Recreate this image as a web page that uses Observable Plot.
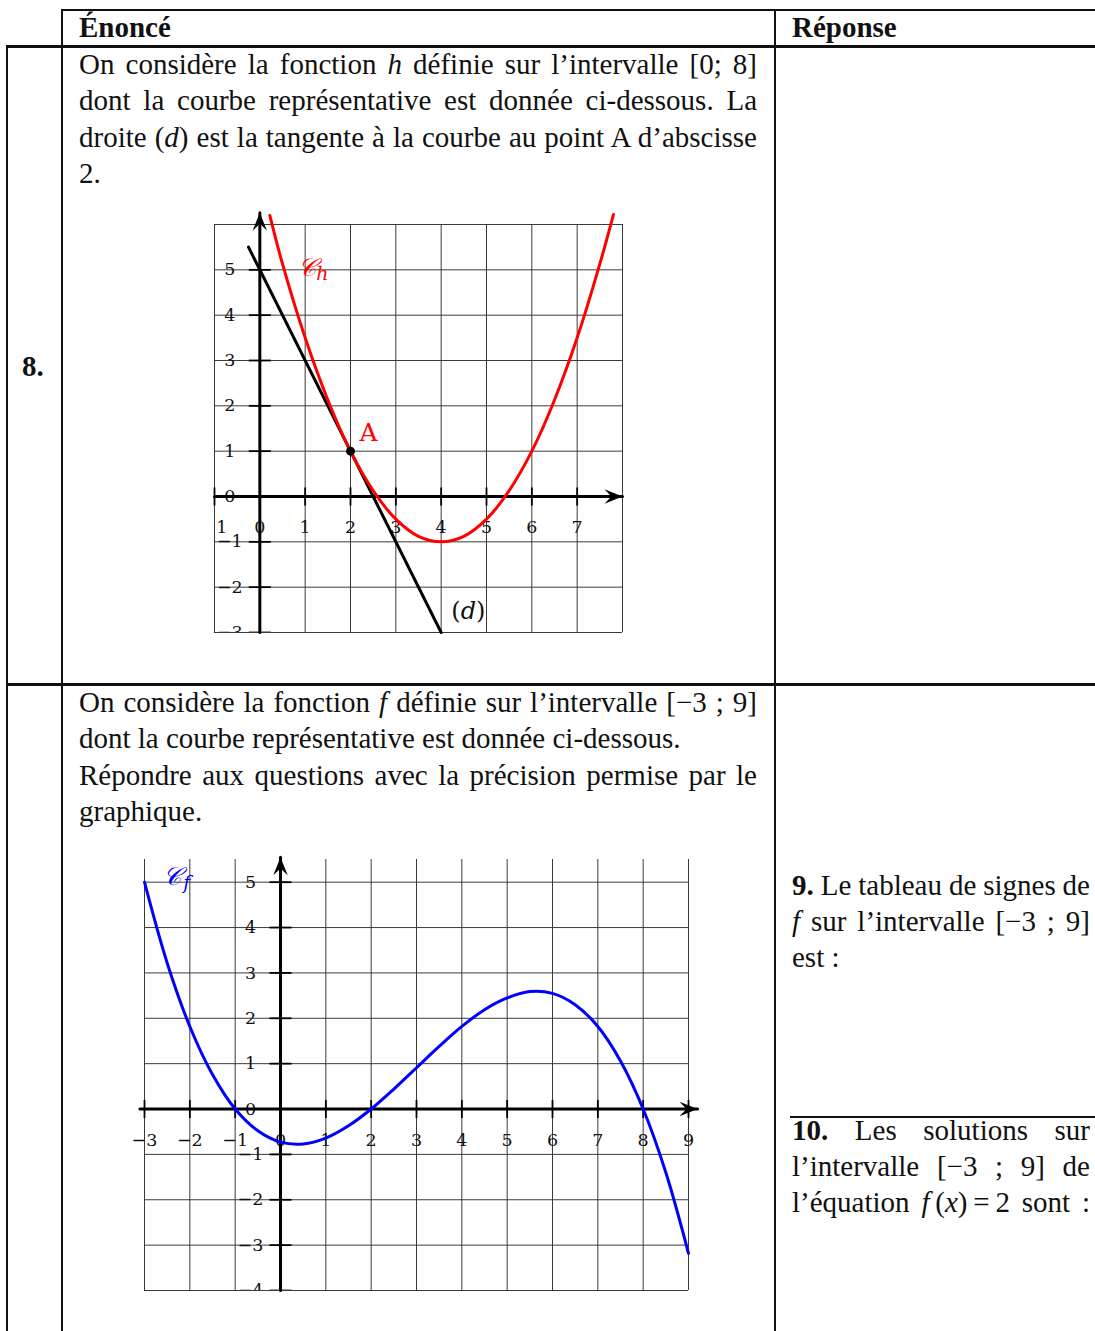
<!DOCTYPE html>
<html>
<head>
<meta charset="utf-8">
<script src="https://cdn.jsdelivr.net/npm/d3@7"></script>
<script src="https://cdn.jsdelivr.net/npm/@observablehq/plot@0.6"></script>
<style>
  html, body { margin: 0; padding: 0; background: #fff; }
  #page { position: relative; width: 1095px; height: 1331px; overflow: hidden; font-family: "Liberation Serif", serif; color: #111; }
  .hl { position: absolute; background: #111; }
  .ln { position: absolute; white-space: nowrap; }
  .b { font-weight: bold; }
  i { font-style: italic; }
  .chart { position: absolute; }
</style>
</head>
<body>
<div id="page"></div>
<script>
// ---------------- data ----------------
const headers = ["Énoncé", "Réponse"];
const rowLabels = ["8."];
const q8Lines = [
  "On considère la fonction <i>h</i> définie sur l’intervalle [0; 8]",
  "dont la courbe représentative est donnée ci-dessous. La",
  "droite (<i>d</i>) est la tangente à la courbe au point A d’abscisse",
  "2."
];
const q9Lines = [
  "On considère la fonction <i>f</i> définie sur l’intervalle [−3 ; 9]",
  "dont la courbe représentative est donnée ci-dessous.",
  "Répondre aux questions avec la précision permise par le",
  "graphique."
];
const ans9Lines = ["<b>9.</b> Le tableau de signes de", "<i>f</i> sur l’intervalle [−3 ; 9]", "est :"];
const ans10Lines = ["<b>10.</b> Les solutions sur", "l’intervalle [−3 ; 9] de", "l’équation <i>f</i>&#8201;(<i>x</i>)&#8201;=&#8201;2 sont :"];

// chart 1 : function h and tangent (d)
const h_x = [0.22, 0.5, 1, 1.5, 2, 2.5, 3, 3.5, 4, 4.5, 5, 5.5, 6, 6.5, 7, 7.5, 7.8];
const h_y = [6.2, 5.13, 3.5, 2.13, 1, 0.13, -0.5, -0.88, -1, -0.88, -0.5, 0.13, 1, 2.13, 3.5, 5.13, 6.22];
const d_x = [-0.25, 4];
const d_y = [5.5, -3];
const pointA = [2, 1];
const grid1X = [-1, 0, 1, 2, 3, 4, 5, 6, 7, 8];
const grid1Y = [-3, -2, -1, 0, 1, 2, 3, 4, 5, 6];
const xLabels1 = [-1, 0, 1, 2, 3, 4, 5, 6, 7];
const yLabels1 = [-3, -2, -1, 0, 1, 2, 3, 4, 5];
const xAxis1 = [-1, 8];
const yAxis1 = [-3, 6.26];
const labels1 = [
  {x: 2, y: 1, text: "A"},
  {x: 4.6, y: -2.53, text: "(𝑑)"},
  {x: 1.05, y: 5.05, text: "𝒞", sub: "ℎ"}
];

// chart 2 : function f
const f_x = [-3, -2.5, -2, -1.5, -1, -0.5, 0, 0.5, 1, 1.5, 2, 2.5, 3, 3.5, 4, 4.5, 5, 5.5, 6, 6.5, 7, 7.5, 8, 8.5, 9];
const f_y = [5, 3.22, 1.82, 0.76, 0, -0.48, -0.73, -0.77, -0.64, -0.37, 0, 0.44, 0.91, 1.38, 1.82, 2.19, 2.45, 2.59, 2.55, 2.3, 1.82, 1.06, 0, -1.4, -3.18];
const grid2X = [-3, -2, -1, 0, 1, 2, 3, 4, 5, 6, 7, 8, 9];
const grid2Y = [-4, -3, -2, -1, 0, 1, 2, 3, 4, 5];
const xLabels2 = [-3, -2, -1, 0, 1, 2, 3, 4, 5, 6, 7, 8, 9];
const yLabels2 = [-4, -3, -2, -1, 0, 1, 2, 3, 4, 5];
const xAxis2 = [-3.1, 9.2];
const yAxis2 = [-4, 5.55];
const labels2 = [{x: -2.4, y: 5.12, text: "𝒞", sub: "𝑓"}];

// ---------------- layout ----------------
const page = document.getElementById("page");
// calibrate font size so the natural width of a reference line matches (≈630px)
const cv = document.createElement("canvas").getContext("2d");
cv.font = '26px "Liberation Serif"';
const natural = cv.measureText("dont la courbe représentative est donnée ci-dessous.").width;
const FS = Math.min(29, Math.max(24, 26 * 628 / natural));

function box(cls, l, t, w, h) {
  const d = document.createElement("div");
  d.className = cls;
  Object.assign(d.style, {left: l + "px", top: t + "px", width: w + "px", height: h + "px"});
  page.appendChild(d);
  return d;
}
function line(html, l, centerY, w, justify, extra) {
  const d = document.createElement("div");
  d.className = "ln" + (extra ? " " + extra : "");
  Object.assign(d.style, {left: l + "px", top: (centerY - 19) + "px",
    fontSize: FS + "px", lineHeight: "38px"});
  d.innerHTML = html;
  page.appendChild(d);
  const nat = d.getBoundingClientRect().width;
  const gaps = (d.textContent.match(/[ \u00a0]/g) || []).length;
  if (justify && gaps > 0) {
    d.style.wordSpacing = ((w - nat) / gaps) + "px";
  } else if (nat > w) {
    d.style.letterSpacing = ((w - nat) / d.textContent.length) + "px";
  }
}
// table rules
box("hl", 62, 9, 1033, 2);
box("hl", 6, 45, 1089, 3);
box("hl", 6, 683, 1089, 3);
box("hl", 61, 9, 2, 1322);
box("hl", 774, 9, 2, 1322);
box("hl", 6, 45, 2, 1286);
box("hl", 790, 1116, 305, 2);

line(headers[0], 79, 27, 300, false, "b");
line(headers[1], 792, 27, 300, false, "b");
line(rowLabels[0], 22, 366, 40, false, "b");

q8Lines.forEach((s, i) => line(s, 79, 64 + i * 36.4, 678, i < 3));
q9Lines.forEach((s, i) => line(s, 79, 702 + i * 36.4, 678, i === 0 || i === 2));
ans9Lines.forEach((s, i) => line(s, 792, 885 + i * 36, 298, i < 2));
ans10Lines.forEach((s, i) => line(s, 792, 1130 + i * 36, 298, true));

// arrow-head symbol (stealth), tip at origin, pointing up
const stealth = {
  draw(ctx, size) {
    const r = Math.sqrt(size / Math.PI);
    const L = r * 2, w = r * 0.8;
    ctx.moveTo(0, 0);
    ctx.lineTo(w, L);
    ctx.lineTo(0, L * 0.62);
    ctx.lineTo(-w, L);
    ctx.closePath();
  }
};
// short tick symbol (horizontal segment)
const hTick = {
  draw(ctx, size) {
    const r = Math.sqrt(size / Math.PI);
    ctx.moveTo(-r, 0);
    ctx.lineTo(r, 0);
  }
};
const fmt = (v) => (v < 0 ? "−" + Math.abs(v) : String(v));
const gridStroke = "#3a3a3a";
const tickFont = "DejaVu Serif, serif";

function chart({xd, yd, gx, gy, gyTop, xl, yl, xa, ya, clipX}) {
  return [
    Plot.ruleX(gx, {x: d => d, y1: yd[0], y2: gyTop, stroke: gridStroke, strokeWidth: 1}),
    Plot.ruleY(gy, {y: d => d, x1: xd[0], x2: xd[1], stroke: gridStroke, strokeWidth: 1}),
    Plot.dot(yl, {x: 0, y: d => d, symbol: hTick, r: 11, stroke: "#000", strokeWidth: 1.8, clip: "frame"}),
    Plot.dot(xl, {x: d => d, y: 0, symbol: hTick, r: 9, rotate: 90, stroke: "#000", strokeWidth: 1.8}),
    Plot.text(xl, {x: d => d, y: 0, dy: 31, text: fmt, fontSize: 17.5, fontFamily: tickFont, fill: "#111", clip: clipX ? "frame" : undefined}),
    Plot.text(yl, {x: 0, y: d => d, dx: -30, text: fmt, fontSize: 17.5, fontFamily: tickFont, fill: "#111", clip: "frame"}),
    Plot.line([0, 1], {x: i => xa[i], y: 0, stroke: "#000", strokeWidth: 3}),
    Plot.line([0, 1], {x: 0, y: i => ya[i], stroke: "#000", strokeWidth: 3}),
    Plot.dot([xa[1]], {x: d => d, y: 0, symbol: stealth, r: 9, fill: "#000", stroke: "none", rotate: 90}),
    Plot.dot([ya[1]], {x: 0, y: d => d, symbol: stealth, r: 9, fill: "#000", stroke: "none", rotate: 0})
  ];
}
function curveLabel(lbls, color) {
  return [
    Plot.text(lbls, {x: "x", y: "y", text: "text", fill: color, fontSize: 25, fontStyle: "italic", fontFamily: "DejaVu Serif, serif"}),
    Plot.text(lbls, {x: "x", y: "y", text: "sub", dx: 15, dy: 6, fill: color, fontSize: 19, fontFamily: "DejaVu Serif, serif"})
  ];
}

// ---------------- chart 1 ----------------
const c1 = Plot.plot({
  width: 468, height: 452, marginLeft: 30, marginRight: 30, marginTop: 24, marginBottom: 20,
  x: {domain: [grid1X[0], grid1X[grid1X.length - 1]], axis: null},
  y: {domain: [grid1Y[0], grid1Y[grid1Y.length - 1]], axis: null},
  style: {background: "transparent", overflow: "visible"},
  marks: [
    ...chart({xd: [grid1X[0], grid1X[grid1X.length - 1]], yd: [grid1Y[0], grid1Y[grid1Y.length - 1]],
      gx: grid1X, gy: grid1Y, gyTop: grid1Y[grid1Y.length - 1], xl: xLabels1, yl: yLabels1,
      xa: xAxis1, ya: yAxis1, clipX: true}),
    Plot.line(d_x.map((x, i) => ({x, y: d_y[i]})), {x: "x", y: "y", stroke: "#000", strokeWidth: 3}),
    Plot.line(h_x.map((x, i) => ({x, y: h_y[i]})), {x: "x", y: "y", stroke: "#ff0000", strokeWidth: 3, curve: "catmull-rom"}),
    Plot.dot([pointA], {x: d => d[0], y: d => d[1], r: 4.5, fill: "#000"}),
    Plot.text([labels1[0]], {x: "x", y: "y", text: "text", dx: 18, dy: -18, fill: "#ff0000", fontSize: 25, fontFamily: "DejaVu Serif, serif"}),
    Plot.text([labels1[1]], {x: "x", y: "y", text: "text", fill: "#111", fontSize: 24, fontFamily: "DejaVu Serif, serif"}),
    ...curveLabel([labels1[2]], "#ff0000")
  ]
});
c1.classList.add("chart");
Object.assign(c1.style, {left: "184px", top: "200px"});
page.appendChild(c1);

// ---------------- chart 2 ----------------
const c2 = Plot.plot({
  width: 604, height: 471, marginLeft: 30, marginRight: 30, marginTop: 20, marginBottom: 20,
  x: {domain: [grid2X[0], grid2X[grid2X.length - 1]], axis: null},
  y: {domain: [grid2Y[0], yAxis2[1] - 0.05], axis: null},
  style: {background: "transparent", overflow: "visible"},
  marks: [
    ...chart({xd: [grid2X[0], grid2X[grid2X.length - 1]], yd: [grid2Y[0], grid2Y[grid2Y.length - 1]],
      gx: grid2X, gy: grid2Y, gyTop: yAxis2[1] - 0.05, xl: xLabels2, yl: yLabels2,
      xa: xAxis2, ya: yAxis2, clipX: false}),
    Plot.line(f_x.map((x, i) => ({x, y: f_y[i]})), {x: "x", y: "y", stroke: "#0000ff", strokeWidth: 3, curve: "catmull-rom"}),
    ...curveLabel(labels2, "#0000ff")
  ]
});
c2.classList.add("chart");
Object.assign(c2.style, {left: "114px", top: "839px"});
page.appendChild(c2);
</script>
</body>
</html>
